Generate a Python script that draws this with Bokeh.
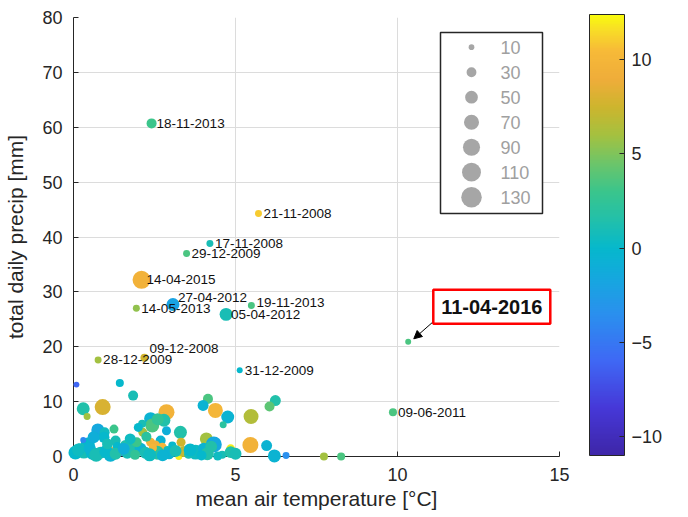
import numpy as np
from bokeh.plotting import figure
from bokeh.models import (ColumnDataSource, LinearColorMapper, ColorBar, FixedTicker,
                          Range1d, Label, Arrow, NormalHead)
from bokeh.transform import transform
from bokeh.core.properties import value
from bokeh.embed import file_html
from bokeh.resources import INLINE

# ---------------- data ----------------
# labelled events
lab_dates = ["18-11-2013", "21-11-2008", "17-11-2008", "29-12-2009", "14-04-2015",
             "27-04-2012", "14-05-2013", "19-11-2013", "05-04-2012", "09-12-2008",
             "28-12-2009", "31-12-2009", "09-06-2011", "11-04-2016"]
lab_temp = [2.41, 5.71, 4.21, 3.49, 2.10, 3.07, 1.94, 5.49, 4.71, 2.19, 0.76, 5.13, 9.86, 10.33]
lab_precip = [60.7, 44.3, 38.8, 37.0, 32.2, 27.7, 27.0, 27.5, 25.9, 18.0, 17.6, 15.7, 8.07, 20.9]
lab_size = [31, 15, 15, 15, 100, 52, 15, 15, 52, 20, 15, 11, 20, 11]
lab_dat = [3.0, 11.0, 1.0, 3.5, 9.5, -2.0, 5.5, 3.5, 1.0, 7.5, 6.0, 0.0, 3.5, 3.5]

# other events
oth_temp = [0.09, 1.43, 1.84, 0.30, 0.42, 0.90, 2.87, 2.38, 2.79, 2.43, 2.12, 2.14, 0.75, 0.96,
            1.25, 1.30, 0.44, 0.30, 1.12, 1.47, 2.87, 3.30, 3.32, 2.38, 2.69, 2.53, 2.74, 2.90,
            4.15, 4.00, 4.38, 4.76, 4.62, 5.48, 6.23, 6.05, 4.10, 4.33, 4.85, 5.46, 5.96, 6.20,
            6.56, 7.73, 8.26, 0.06, 0.32, 0.58, 0.83, 1.14, 1.66, 1.81, 2.07, 2.22, 2.58, 3.25,
            3.40, 3.77, 4.02, 4.13, 4.59, 4.85, 5.00, 0.94, 1.60, 1.95, 0.20, 1.35, 2.95, 3.55,
            1.90, 2.45, 3.05, 3.95, 4.45, 2.00, 2.60, 0.15, 0.50, 0.70, 1.00, 1.30, 1.55, 2.35,
            2.75, 3.15, 3.60, 4.25, 1.05, 0.62, 1.75, 2.25]
oth_precip = [13.1, 13.4, 11.1, 8.7, 7.3, 9.0, 8.07, 6.9, 6.6, 5.65, 5.95, 4.4, 4.85, 4.4,
              5.0, 2.9, 2.2, 3.0, 1.1, 1.0, 4.7, 4.4, 2.6, 2.6, 2.9, 2.1, 1.7, 1.2,
              10.5, 9.3, 8.4, 7.2, 5.8, 7.3, 10.2, 9.1, 3.2, 2.2, 1.4, 2.1, 2.0, 0.1,
              0.2, 0.0, 0.0, 0.7, 0.8, 0.6, 0.7, 0.3, 0.7, 1.7, 1.4, 0.7, 0.7, 0.0,
              0.9, 0.8, 1.4, 0.5, 0.3, 0.8, 0.5, 3.5, 2.0, 2.6, 1.5, 1.8, 0.5, 0.4,
              0.3, 1.6, 2.0, 0.2, 0.1, 5.3, 6.8, 1.2, 1.5, 0.3, 0.9, 0.5, 1.4, 0.3,
              0.2, 1.0, 1.2, 1.8, 2.3, 3.5, 3.2, 3.6]
oth_size = [11, 20, 31, 52, 15, 79, 79, 52, 52, 60, 20, 25, 52, 31,
            25, 31, 60, 11, 25, 31, 25, 52, 25, 25, 31, 25, 25, 20,
            31, 37, 69, 52, 15, 69, 37, 31, 52, 79, 25, 79, 37, 52,
            15, 20, 20, 60, 52, 52, 44, 60, 44, 44, 44, 44, 60, 15,
            37, 69, 44, 52, 20, 44, 44, 37, 37, 31, 31, 25, 37, 25,
            31, 20, 20, 31, 25, 25, 44, 52, 44, 60, 52, 44, 44, 52,
            44, 44, 52, 44, 37, 44, 37, 31]
oth_dat = [-6.0, 0.0, 1.0, 1.5, 6.0, 8.0, 9.5, -0.5, 1.5, 3.5, 1.0, 6.0, -1.5, 0.5,
           3.0, 1.0, 0.0, -4.0, 9.5, -5.5, -1.0, 1.5, 7.5, 9.5, -0.5, 9.5, 10.0, 0.5,
           3.5, -0.5, 10.0, -0.5, 2.0, 6.5, 1.5, 4.0, 6.0, -1.5, 12.0, 9.5, -0.5, -0.5,
           -3.5, 6.0, 3.5, 0.0, 1.0, 0.0, 1.0, -0.5, 1.0, 1.5, -0.5, 1.0, 2.0, 12.0,
           7.0, 0.5, -0.5, 1.5, 1.0, 1.5, 1.0, 0.0, 1.5, 3.0, 1.0, 0.0, -0.5, 1.0,
           2.5, 10.0, 0.0, 0.0, 0.5, 0.0, 2.5, 0.5, -0.5, 1.0, 0.0, 1.5, -1.0, 0.5,
           -0.5, 1.0, 0.0, 1.5, 1.0, -1.0, 0.5, 2.0]

legend_sizes = [10, 30, 50, 70, 90, 110, 130]
x_ticks = [0, 5, 10, 15]
y_ticks = [0, 10, 20, 30, 40, 50, 60, 70, 80]
cbar_ticks = [-10, -5, 0, 5, 10]
cbar_low, cbar_high = -11.0, 12.4
highlight = "11-04-2016"

# ---------------- layout / style ----------------
FONT = "Liberation Sans"
INK = "#262626"
W, H = 688, 517
FL, FT = 73, 17            # frame left / top in px
FW, FH = 486, 439          # frame size in px
XMAX, YMAX = 15, 80
K_SIZE = 1.8               # px diameter per sqrt(size)
label_lift = {"27-04-2012": 6.7, "19-11-2013": 2.7, "09-12-2008": 9.0}


def dx(px):
    return px * XMAX / FW


def dy(px):
    return px * YMAX / FH


# parula-like palette
anc_v = [-11, -8.5, -6, -3.5, -1.5, 0, 1.5, 3, 4.5, 6, 7.5, 9, 10.5, 11.7, 12.4]
anc_c = ["#3e26a8", "#4638d8", "#3f68f5", "#2a90ee", "#14a9de", "#06b8cc", "#22c0aa",
         "#3ac58c", "#6cc56a", "#a4c140", "#cdb52e", "#efad3a", "#f7ba38", "#f8e025", "#f9fb0e"]
rgb = np.array([[int(c[i:i + 2], 16) for i in (1, 3, 5)] for c in anc_c], dtype=float)
grid_v = np.linspace(cbar_low, cbar_high, 256)
palette = ["#%02x%02x%02x" % tuple(int(round(np.interp(v, anc_v, rgb[:, k]))) for k in range(3))
           for v in grid_v]
mapper = LinearColorMapper(palette=palette, low=cbar_low, high=cbar_high)

all_temp = oth_temp + lab_temp
all_precip = oth_precip + lab_precip
all_size = oth_size + lab_size
all_dat = oth_dat + lab_dat
src = ColumnDataSource(dict(temp=all_temp, precip=all_precip, dat=all_dat,
                            diam=[K_SIZE * np.sqrt(s) for s in all_size]))

p = figure(width=W, height=H, x_range=Range1d(0, XMAX), y_range=Range1d(0, YMAX),
           output_backend="svg", toolbar_location=None,
           min_border_left=FL, min_border_right=W - FL - FW, min_border_top=FT,
           min_border_bottom=H - FT - FH)
p.outline_line_color = None
p.background_fill_color = "white"
p.border_fill_color = "white"

for ax in (p.xaxis[0], p.yaxis[0]):
    ax.axis_line_color = INK
    ax.major_tick_line_color = INK
    ax.major_tick_in = 5
    ax.major_tick_out = 0
    ax.minor_tick_line_color = None
    ax.major_label_text_font = FONT
    ax.major_label_text_font_size = "18px"
    ax.major_label_text_color = INK
    ax.axis_label_text_font = FONT
    ax.axis_label_text_font_size = "21px"
    ax.axis_label_text_font_style = "normal"
    ax.axis_label_text_color = INK

p.xaxis.ticker = FixedTicker(ticks=x_ticks)
p.yaxis.ticker = FixedTicker(ticks=y_ticks)
p.xaxis.axis_label = "mean air temperature [°C]"
p.yaxis.axis_label = "total daily precip [mm]"
p.xaxis.major_label_standoff = 11
p.xaxis.axis_label_standoff = 3
p.yaxis.major_label_standoff = 11
p.yaxis.axis_label_standoff = 12

p.xgrid.ticker = FixedTicker(ticks=[t for t in x_ticks if 0 < t < XMAX])
p.ygrid.ticker = FixedTicker(ticks=[t for t in y_ticks if 0 < t < YMAX])
p.xgrid.grid_line_color = "#dcdcdc"
p.ygrid.grid_line_color = "#dcdcdc"

sc = p.scatter("temp", "precip", size="diam", source=src,
               fill_color=transform("dat", mapper), line_color=None)
sc.level = "overlay"

# date labels
lab_src = ColumnDataSource(dict(
    x=[t for t, d in zip(lab_temp, lab_dates) if d != highlight],
    y=[v for v, d in zip(lab_precip, lab_dates) if d != highlight],
    text=[d for d in lab_dates if d != highlight],
    yoff=[-label_lift.get(d, 0.0) for d in lab_dates if d != highlight]))
tx = p.text("x", "y", text="text", source=lab_src, x_offset=5, y_offset="yoff",
            text_font=value(FONT), text_font_size=value("13.5px"),
            text_baseline="middle", text_align="left", text_color="#111111")
tx.level = "overlay"

# highlighted event annotation
hi = lab_dates.index(highlight)
hx, hy = lab_temp[hi], lab_precip[hi]
box = p.rect(x=[hx + dx(83.6)], y=[hy + dy(35)], width=117, height=34,
             width_units="screen", height_units="screen",
             fill_color="white", line_color="#ff0000", line_width=2.5)
box.level = "overlay"
ht = p.text(x=[hx + dx(83.6)], y=[hy + dy(35)], text=[highlight],
            text_font=value(FONT), text_font_size=value("20px"), text_font_style="bold",
            text_align="center", text_baseline="middle", text_color="#111111")
ht.level = "overlay"
p.add_layout(Arrow(x_start=hx + dx(25.6), y_start=hy + dy(20.6),
                   x_end=hx + dx(5.6), y_end=hy + dy(3.0),
                   line_color="black", line_width=1,
                   end=NormalHead(size=8, fill_color="black", line_color="black")))

# size legend (frame px)
lg_left, lg_right, lg_top, lg_bottom = 367, 469, 15, 196
lq = p.quad(left=[dx(lg_left)], right=[dx(lg_right)], top=[YMAX - dy(lg_top)],
            bottom=[YMAX - dy(lg_bottom)], fill_color="white", line_color=INK, line_width=1.5)
lq.level = "overlay"
leg_src = ColumnDataSource(dict(
    x=[dx(398)] * len(legend_sizes),
    y=[YMAX - dy(29.7 + 25 * i) for i in range(len(legend_sizes))],
    tx=[dx(427)] * len(legend_sizes),
    d=[K_SIZE * np.sqrt(s) for s in legend_sizes],
    text=[str(s) for s in legend_sizes]))
lm = p.scatter("x", "y", size="d", source=leg_src, fill_color="#a6a6a6", line_color=None)
lm.level = "overlay"
lt = p.text("tx", "y", text="text", source=leg_src, text_font=value(FONT),
            text_font_size=value("18px"), text_color="#a0a0a0",
            text_baseline="middle", text_align="left")
lt.level = "overlay"

# colour bar
cb = ColorBar(color_mapper=mapper, ticker=FixedTicker(ticks=cbar_ticks), width=35, height=441,
              major_label_text_font=FONT, major_label_text_font_size="18px",
              major_label_text_color=INK, major_tick_line_color=INK,
              major_tick_in=5, major_tick_out=0, minor_tick_line_color=None,
              bar_line_color=INK, label_standoff=7, padding=0, margin=0,
              location=(30, 1),
              background_fill_alpha=0, border_line_color=None)
p.add_layout(cb, "right")
p.add_layout(Label(x=XMAX + dx(677 - FL - FW), y=YMAX - dy(237 - FT),
                   text="AT change last 24 hours [°C]",
                   angle=90, angle_units="deg", text_align="center", text_baseline="middle",
                   text_font=FONT, text_font_size="21px", text_color=INK))

open("out.html", "w").write(file_html(p, INLINE))
